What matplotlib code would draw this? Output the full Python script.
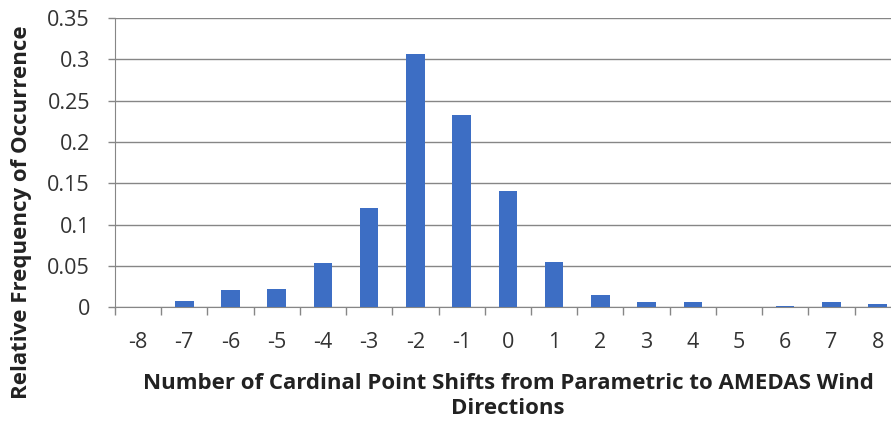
import numpy as np
import matplotlib.pyplot as plt
from matplotlib.ticker import FixedLocator

shifts = [-8, -7, -6, -5, -4, -3, -2, -1, 0, 1, 2, 3, 4, 5, 6, 7, 8]
rel_freq = [0.0, 0.008, 0.021, 0.022, 0.053, 0.12, 0.306, 0.233, 0.141,
            0.055, 0.0145, 0.0065, 0.0065, 0.0, 0.0016, 0.0065, 0.0036]
y_ticks = [0, 0.05, 0.1, 0.15, 0.2, 0.25, 0.3, 0.35]
y_tick_labels = ['0', '0.05', '0.1', '0.15', '0.2', '0.25', '0.3', '0.35']

fonts = ['Open Sans', 'DejaVu Sans']
grid_col = '#868686'

fig = plt.figure(figsize=(8.91, 4.26), dpi=100)
ax = fig.add_axes([0.129, 0.279, 0.882, 0.679])

ax.bar(shifts, rel_freq, width=0.4, color='#3D6EC4', zorder=3)

ax.set_xlim(-8.5, 8.5)
ax.set_ylim(0, 0.35)

ax.set_yticks(y_ticks)
ax.set_yticklabels(y_tick_labels, family=fonts, fontsize=15.5, color='#333333')
ax.yaxis.grid(True, color=grid_col, linewidth=1.0, zorder=0)
ax.tick_params(axis='y', length=5, width=1, color=grid_col, direction='out', pad=13)

# category labels sit between tick marks
ax.set_xticks(shifts)
ax.set_xticklabels([str(s) for s in shifts], family=fonts, fontsize=15.5, color='#333333')
ax.tick_params(axis='x', which='major', length=0, pad=18)
ax.xaxis.set_minor_locator(FixedLocator(np.arange(-8.5, 9.0, 1.0)))
ax.tick_params(axis='x', which='minor', length=6, width=1, color=grid_col, direction='out')

for side in ['top', 'right']:
    ax.spines[side].set_visible(False)
ax.spines['left'].set_color(grid_col)
ax.spines['bottom'].set_color(grid_col)

fig.text(508 / 891, 1 - 396 / 426,
         'Number of Cardinal Point Shifts from Parametric to AMEDAS Wind\nDirections',
         family=fonts, fontsize=16, fontweight='bold', color='#222222',
         ha='center', va='center', linespacing=1.2)
fig.text(22 / 891, 1 - 212 / 426, 'Relative Frequency of Occurrence',
         family=fonts, fontsize=16, fontweight='bold', color='#222222',
         rotation=90, ha='center', va='center')

fig.savefig('out.png', dpi=100)
